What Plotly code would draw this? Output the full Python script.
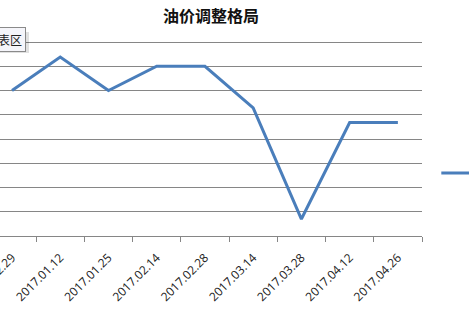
import plotly.graph_objects as go

dates = ["2016.12.29", "2017.01.12", "2017.01.25", "2017.02.14", "2017.02.28",
         "2017.03.14", "2017.03.28", "2017.04.12", "2017.04.26"]
prices = [6.0, 7.38, 6.0, 7.0, 7.0, 5.28, 0.70, 4.68, 4.68]
series_name = "油价"

W, H = 469, 313
L, R, T, B = 0, 47.3, 40, 77
pw = W - L - R
ph = H - T - B
y_top = 8.0825

fig = go.Figure()
fig.add_trace(go.Scatter(
    x=dates, y=prices, mode="lines", name=series_name,
    line=dict(color="#4A7EBB", width=3), showlegend=True,
))

fig.update_layout(
    width=W, height=H,
    margin=dict(l=L, r=R, t=T, b=B, autoexpand=False),
    paper_bgcolor="white", plot_bgcolor="white",
    template="none",
    font=dict(family="Liberation Sans, Arial, sans-serif", size=11, color="#222222"),
    showlegend=True,
    legend=dict(x=(436 - L) / pw, xanchor="left", y=(236 - 173) / ph, yanchor="middle",
                bgcolor="rgba(0,0,0,0)", borderwidth=0,
                font=dict(family="Noto Sans CJK SC", size=12, color="#222222")),
    xaxis=dict(type="category", range=[-0.249, 8.5], tickson="boundaries",
               ticks="outside", ticklen=5, tickcolor="#868686", tickwidth=1,
               showline=True, linecolor="#868686", linewidth=1,
               showgrid=False, zeroline=False, tickangle=-45,
               ticklabelstandoff=9,
               tickfont=dict(family="Open Sans, Liberation Sans, sans-serif", size=12,
                             color="#1a1a1a"),
               automargin=False),
    yaxis=dict(range=[0, y_top], tick0=0, dtick=1, showgrid=True, gridcolor="#868686",
               gridwidth=1, zeroline=False, showticklabels=False, ticks="",
               showline=False, automargin=False),
    annotations=[
        dict(text="<b>油价调整格局</b>", xref="paper", yref="paper",
             x=(211 - L) / pw, y=(H - B - 15) / ph, xanchor="center", yanchor="middle",
             showarrow=False,
             font=dict(family="Noto Sans CJK SC", size=16, color="#111111")),
        dict(text="图表区", xref="paper", yref="paper",
             x=(26 - L) / pw, y=(H - B - 39.5) / ph, xanchor="right", yanchor="middle",
             showarrow=False, bgcolor="#f5f5fa", bordercolor="#8a8a8a", borderwidth=1,
             borderpad=3,
             font=dict(family="Noto Sans CJK SC", size=12, color="#222222")),
    ],
    shapes=[
        dict(type="rect", xref="paper", yref="paper",
             x0=-0.1, x1=(29 - L) / pw, y0=(H - B - 53) / ph, y1=(H - B - 32) / ph,
             fillcolor="rgba(0,0,0,0.12)", line=dict(width=0), layer="above"),
    ],
)

fig.write_html("out.html")
